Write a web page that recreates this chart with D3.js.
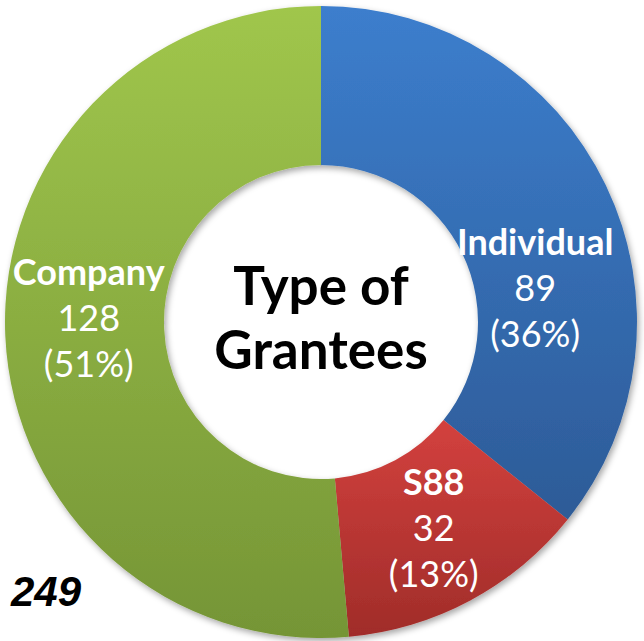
<!DOCTYPE html>
<html>
<head>
<meta charset="utf-8">
<script src="https://cdn.jsdelivr.net/npm/d3@7"></script>
<style>
  body { margin: 0; background: #fff; }
  svg { display: block; }
</style>
</head>
<body>
<div id="chart"></div>
<script>
// chart data
var categories = ["Individual", "S88", "Company"];
var values = [89, 32, 128];
var title = ["Type of", "Grantees"];
var totalLabel = "249";

// gradient stops per slice (top, bottom)
var colors = [
  ["#3c7ecd", "#2d5b97"],
  ["#d3413e", "#a02c29"],
  ["#a0c64c", "#759536"]
];
// label nudges away from the arc centroid
var labelNudge = [[1, 70], [1, 0], [4, -12]];

var width = 644, height = 641;
var cx = 321, cy = 322, outerR = 316, innerR = 157;

var svg = d3.select("#chart")
  .append("svg")
    .attr("width", width)
    .attr("height", height);

var defs = svg.append("defs");

colors.forEach(function(c, i) {
  var g = defs.append("linearGradient")
    .attr("id", "grad" + i)
    .attr("x1", 0).attr("y1", 0)
    .attr("x2", 0).attr("y2", 1);
  g.append("stop").attr("offset", "0%").attr("stop-color", c[0]);
  g.append("stop").attr("offset", "100%").attr("stop-color", c[1]);
});

var shadow = defs.append("filter")
  .attr("id", "shadow")
  .attr("x", "-10%").attr("y", "-10%")
  .attr("width", "120%").attr("height", "120%");
shadow.append("feDropShadow")
  .attr("dx", 2).attr("dy", 3)
  .attr("stdDeviation", 3)
  .attr("flood-color", "#000")
  .attr("flood-opacity", 0.35);

var data = categories.map(function(c, i) { return {name: c, value: values[i], i: i}; });
var total = d3.sum(values);

var pie = d3.pie()
  .sort(null)
  .value(function(d) { return d.value; });

var arc = d3.arc()
  .innerRadius(innerR)
  .outerRadius(outerR);

var g = svg.append("g")
  .attr("transform", "translate(" + cx + "," + cy + ")");

var arcs = pie(data);

g.append("g")
    .attr("filter", "url(#shadow)")
  .selectAll("path")
  .data(arcs)
  .enter()
  .append("path")
    .attr("d", arc)
    .attr("fill", function(d) { return "url(#grad" + d.data.i + ")"; });

// slice labels
var labels = g.selectAll(".lbl")
  .data(arcs)
  .enter()
  .append("text")
    .attr("class", "lbl")
    .attr("text-anchor", "middle")
    .attr("fill", "#fff")
    .attr("font-family", "Lato, 'Open Sans', sans-serif")
    .attr("font-size", 36)
    .attr("transform", function(d) {
      var c = arc.centroid(d), n = labelNudge[d.data.i];
      return "translate(" + (c[0] + n[0]) + "," + (c[1] + n[1]) + ")";
    });

labels.append("tspan")
  .attr("x", 0).attr("y", -35)
  .attr("font-weight", "bold")
  .text(function(d) { return d.data.name; });
labels.append("tspan")
  .attr("x", 0).attr("y", 11)
  .text(function(d) { return d.data.value; });
labels.append("tspan")
  .attr("x", 0).attr("y", 57)
  .text(function(d) { return "(" + Math.round(d.data.value / total * 100) + "%)"; });

// centre title
g.append("text")
  .attr("text-anchor", "middle")
  .attr("font-family", "Lato, 'Open Sans', sans-serif")
  .attr("font-weight", "bold")
  .attr("font-size", 53)
  .attr("fill", "#000")
  .selectAll("tspan")
  .data(title)
  .enter()
  .append("tspan")
    .attr("x", 0)
    .attr("y", function(d, i) { return -17 + i * 64; })
    .text(function(d) { return d; });

// total in corner
svg.append("text")
  .attr("x", 11)
  .attr("y", 606)
  .attr("font-family", "'Liberation Sans', Arial, sans-serif")
  .attr("font-weight", "bold")
  .attr("font-style", "italic")
  .attr("font-size", 42)
  .attr("fill", "#000")
  .text(totalLabel);
</script>
</body>
</html>
